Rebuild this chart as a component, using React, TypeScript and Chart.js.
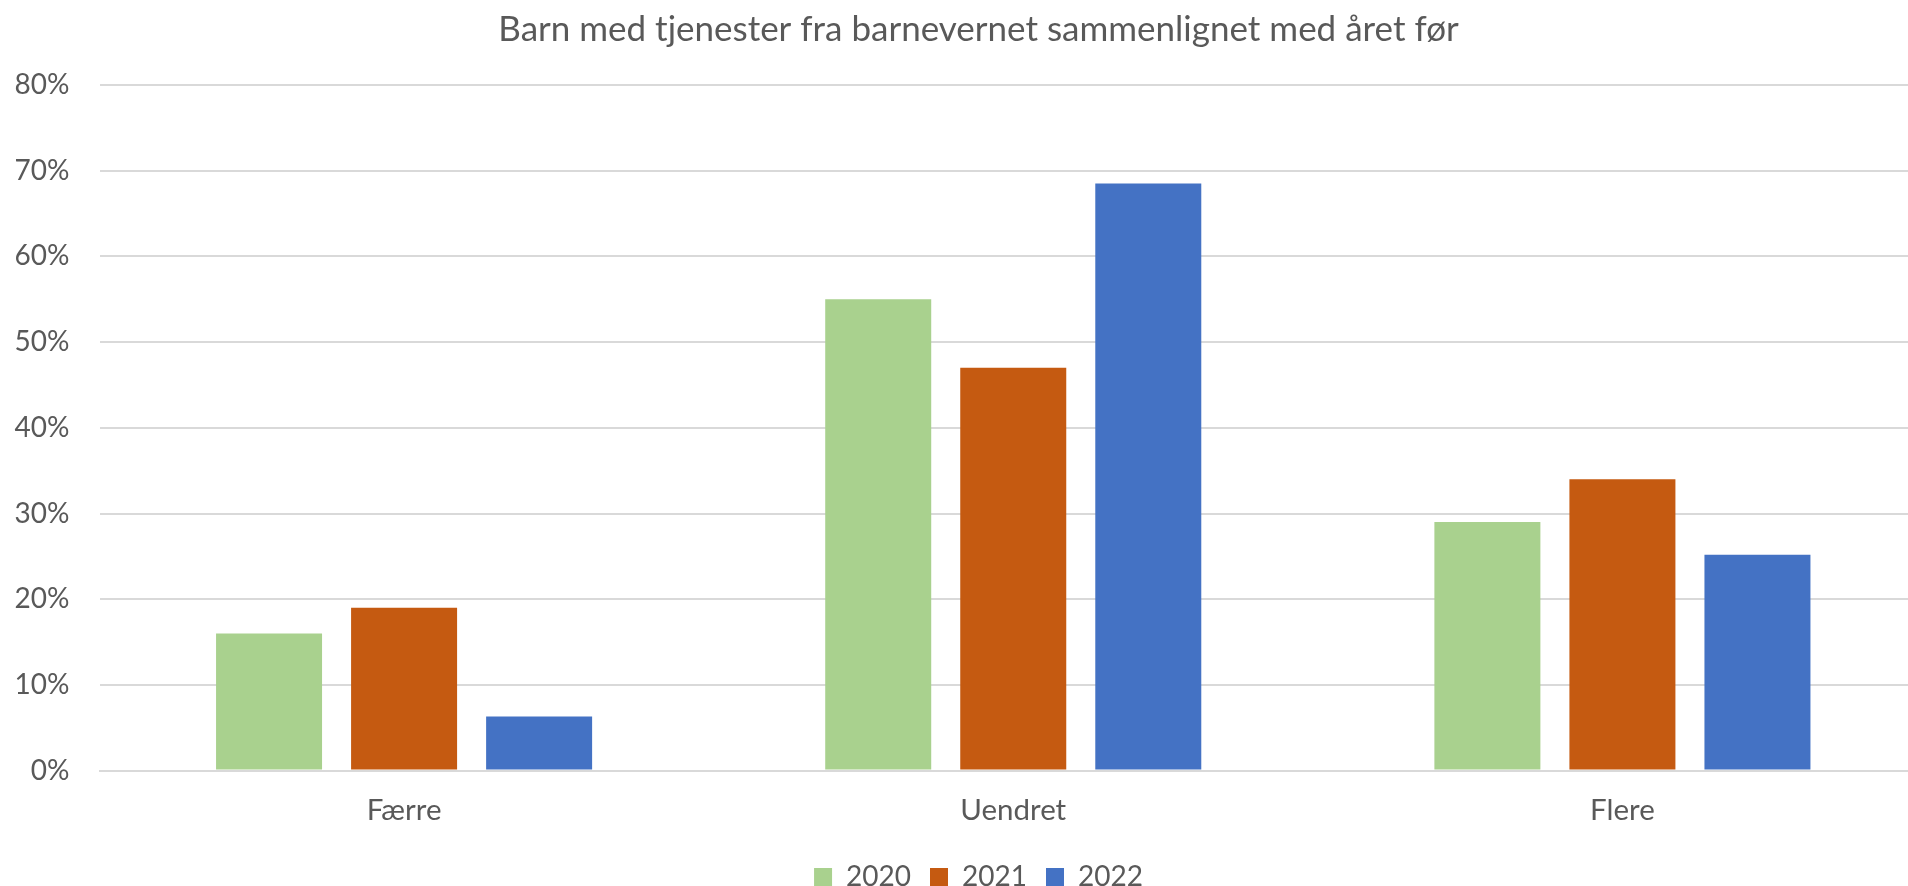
import React, { useEffect, useRef } from "react";
import { Chart, registerables } from "chart.js";

Chart.register(...registerables);

const TITLE = "Barn med tjenester fra barnevernet sammenlignet med året før";
const categories = ["Færre", "Uendret", "Flere"];
const seriesLabels = ["2020", "2021", "2022"];
const values2020 = [16, 55, 29];
const values2021 = [19, 47, 34];
const values2022 = [6.3, 68.5, 25.2];
const seriesColors = ["#A9D18E", "#C55A11", "#4472C4"];
const yTicks = [0, 10, 20, 30, 40, 50, 60, 70, 80];

const FONT = "Lato, 'Noto Sans', sans-serif";
const TEXT = "#595959";

const unclipY = {
  id: "unclipY",
  afterLayout(chart: any) {
    if (chart.scales.y) chart.scales.y.left = 0;
  },
};

export default function App() {
  const ref = useRef<HTMLCanvasElement | null>(null);

  useEffect(() => {
    if (!ref.current) return;
    const seriesValues = [values2020, values2021, values2022];
    const chart = new Chart(ref.current, {
      type: "bar",
      data: {
        labels: categories,
        datasets: seriesLabels.map((l, i) => ({
          label: l,
          data: seriesValues[i],
          backgroundColor: seriesColors[i],
          borderWidth: 0,
          barPercentage: 0.785,
          categoryPercentage: 0.665,
        })),
      },
      plugins: [unclipY],
      options: {
        animation: false,
        responsive: true,
        maintainAspectRatio: false,
        layout: { padding: { left: 30, right: 0, top: 0, bottom: -15 } },
        plugins: {
          title: {
            display: true,
            text: TITLE,
            color: TEXT,
            font: { family: FONT, size: 35, weight: "normal" },
            padding: { top: 9, bottom: 34 },
          },
          legend: {
            position: "bottom",
            labels: {
              color: TEXT,
              font: { family: FONT, size: 28 },
              boxWidth: 18,
              boxHeight: 18,
              padding: 19,
            },
          },
          tooltip: { enabled: false },
        },
        scales: {
          x: {
            afterFit: (scale: any) => {
              scale.height = scale.height - 6;
            },
            grid: { display: false, drawTicks: false },
            border: { display: true, color: "#D9D9D9", width: 2 },
            ticks: {
              color: TEXT,
              font: { family: FONT, size: 29.5 },
              padding: 22,
            },
          },
          y: {
            min: 0,
            max: 80,
            afterBuildTicks: (scale: any) => {
              scale.ticks = yTicks.map((v) => ({ value: v }));
            },
            afterFit: (scale: any) => {
              scale.width = 69.5;
            },
            grid: { color: "#D9D9D9", lineWidth: 2, drawTicks: false },
            border: { display: false },
            ticks: {
              color: TEXT,
              font: { family: FONT, size: 28 },
              padding: 30,
              callback: (v: any) => v + "%",
            },
          },
        },
      },
    });
    return () => chart.destroy();
  }, []);

  return (
    <div style={{ position: "fixed", left: 0, top: 0, width: 1908, height: 886, overflow: "hidden", background: "#fff" }}>
      <div style={{ position: "absolute", left: 0, top: 0, width: 1927, height: 886 }}>
        <canvas ref={ref} />
      </div>
    </div>
  );
}
